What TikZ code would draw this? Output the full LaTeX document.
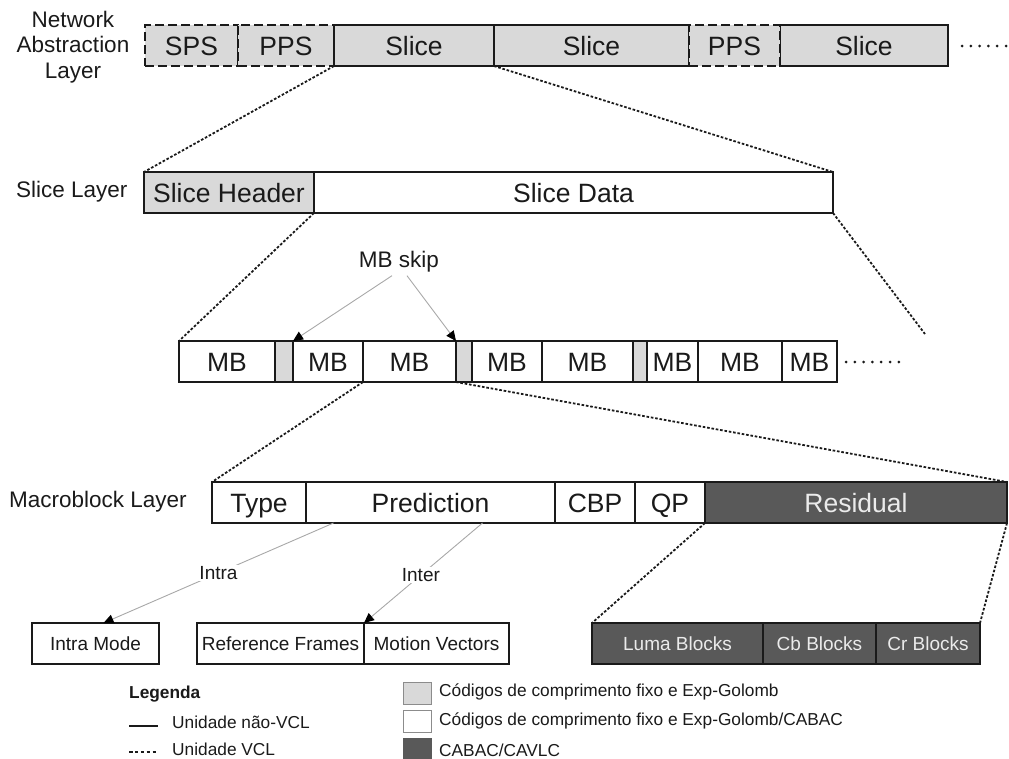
\documentclass[tikz,border=0pt]{standalone}
\usepackage{fontspec}
\setmainfont{Liberation Sans}
\usetikzlibrary{arrows.meta}

\definecolor{lightfill}{HTML}{D9D9D9}
\definecolor{darkfill}{HTML}{595959}
\definecolor{linkgray}{HTML}{A8A8A8}
\definecolor{ink}{HTML}{1A1A1A}

\tikzset{
  box/.style={draw=ink, line width=1.5pt, inner sep=0pt, outer sep=0pt,
              anchor=north west, text=ink, minimum height=41pt,
              text height=19pt, text depth=0pt,
              font=\fontsize{26.5}{30}\selectfont},
  lite/.style={box, fill=lightfill},
  plain/.style={box, fill=white},
  dark/.style={box, fill=darkfill, text=white!92!black},
  dashbox/.style={dash pattern=on 9pt off 4pt},
  small/.style={font=\fontsize{19}{22}\selectfont, text height=13.6pt},
  layerlabel/.style={font=\fontsize{22.5}{25.5}\selectfont, text=ink, inner sep=0pt},
  zoomline/.style={draw=ink, line width=1.8pt, dash pattern=on 2.6pt off 1.8pt},
  trail/.style={draw=ink, line width=3pt, line cap=round, dash pattern=on 0pt off 8.8pt},
  choice/.style={draw=linkgray, line width=0.9pt,
                 -{Triangle[length=10pt,width=9pt,color=black]}},
  branchlabel/.style={fill=white, inner sep=1.5pt, text=ink,
                      font=\fontsize{19}{22}\selectfont},
  legendtext/.style={anchor=west, inner sep=0pt, text=ink,
                     font=\fontsize{17.3}{20}\selectfont},
  swatch/.style={draw=black!45, line width=0.8pt, anchor=north west,
                 minimum width=28pt, minimum height=22pt, inner sep=0pt},
}

\begin{document}
\begin{tikzpicture}[x=1pt,y=-1pt]
\useasboundingbox (0,0) rectangle (1009,758);

% ---- Network abstraction layer ----
\node[layerlabel, align=center] (nallabel) at (73,47)
  {Network\\Abstraction\\Layer};
\node[lite, dashbox, minimum width=93pt]  (sps)    at (145,25) {SPS};
\node[lite, dashbox, minimum width=96pt]  (ppsA)   at (238,25) {PPS};
\node[lite, minimum width=160pt]          (sliceA) at (334,25) {Slice};
\node[lite, minimum width=195pt]          (sliceB) at (494,25) {Slice};
\node[lite, minimum width=168pt]          (sliceC) at (780,25) {Slice};
\node[lite, dashbox, minimum width=91pt]  (ppsB)   at (689,25) {PPS};
\coordinate (nalmore) at (962,46);
\draw[trail] (nalmore) -- ++(44.5,0);

% ---- Slice layer ----
\node[layerlabel, anchor=west] (slicelabel) at (16,192) {Slice Layer};
\node[lite,  minimum width=170pt] (shead) at (144,172) {Slice Header};
\node[plain, minimum width=519pt] (sdata) at (314,172) {Slice Data};

\draw[zoomline] (sliceA.south west) -- (shead.north west);
\draw[zoomline] (sliceA.south east) -- (sdata.north east);

% ---- Macroblock sequence ----
\begin{scope}[every node/.append style={minimum height=40pt}]
\node[plain, minimum width=96pt] (mbA) at (179,341) {MB};
\node[lite,  minimum width=18pt] (skA) at (275,341) {};
\node[plain, minimum width=70pt] (mbB) at (293,341) {MB};
\node[plain, minimum width=93pt] (mbC) at (363,341) {MB};
\node[lite,  minimum width=16pt] (skB) at (456,341) {};
\node[plain, minimum width=70pt] (mbD) at (472,341) {MB};
\node[plain, minimum width=91pt] (mbE) at (542,341) {MB};
\node[lite,  minimum width=14pt] (skC) at (633,341) {};
\node[plain, minimum width=51pt] (mbF) at (647,341) {MB};
\node[plain, minimum width=84pt] (mbG) at (698,341) {MB};
\node[plain, minimum width=55pt] (mbH) at (782,341) {MB};
\end{scope}
\coordinate (mbmore) at (846,362);
\draw[trail] (mbmore) -- ++(53.5,0);

\coordinate (sdataend) at (925,334);
\draw[zoomline] (shead.south east) -- (mbA.north west);
\draw[zoomline] (sdata.south east) -- (sdataend);

\node[layerlabel] (skip) at (399,262) {MB skip};
\draw[choice] ([xshift=-7pt,yshift=-3pt]skip.south) -- (skA.north east);
\draw[choice] ([xshift=8pt,yshift=-3pt]skip.south) -- (skB.north west);

% ---- Macroblock layer ----
\node[layerlabel, anchor=west] (mblabel) at (9,502) {Macroblock Layer};
\node[plain, minimum width=94pt]  (type) at (212,482) {Type};
\node[plain, minimum width=249pt] (pred) at (306,482) {Prediction};
\node[plain, minimum width=80pt]  (cbp)  at (555,482) {CBP};
\node[plain, minimum width=70pt]  (qp)   at (635,482) {QP};
\node[dark,  minimum width=302pt] (res)  at (705,482) {Residual};

\draw[zoomline] (mbC.south west) -- (type.north west);
\draw[zoomline] (mbC.south east) -- (res.north east);

% ---- Prediction and residual contents ----
\node[plain, small, minimum width=127pt] (intra) at (32,623)  {Intra Mode};
\node[plain, small, minimum width=167pt] (reff)  at (197,623) {Reference Frames};
\node[plain, small, minimum width=145pt] (mv)    at (364,623) {Motion Vectors};
\node[dark,  small, minimum width=171pt] (luma)  at (592,623) {Luma Blocks};
\node[dark,  small, minimum width=113pt] (cb)    at (763,623) {Cb Blocks};
\node[dark,  small, minimum width=104pt] (cr)    at (876,623) {Cr Blocks};

\draw[choice] ([xshift=-97pt]pred.south) -- node[branchlabel, pos=0.5] {Intra}
  ([xshift=8pt]intra.north);
\draw[choice] ([xshift=52pt]pred.south) -- node[branchlabel, pos=0.52] {Inter}
  (reff.north east);

\draw[zoomline] (qp.south east) -- (luma.north west);
\draw[zoomline] (res.south east) -- (cr.north east);

% ---- Legend ----
\node[legendtext, font=\bfseries\fontsize{17.3}{20}\selectfont] (legtitle)
  at (129,694) {Legenda};
\coordinate (solidA) at (129,726);
\coordinate (solidB) at (158,726);
\draw[draw=ink, line width=1.6pt] (solidA) -- (solidB);
\node[legendtext] (nonvcl) at (172,722) {Unidade não-VCL};
\coordinate (dashA) at (129,752);
\coordinate (dashB) at (158,752);
\draw[draw=ink, line width=1.6pt, dash pattern=on 3.5pt off 2.4pt] (dashA) -- (dashB);
\node[legendtext] (vcl) at (172,749) {Unidade VCL};

\node[swatch, fill=lightfill] (swA) at (403,682) {};
\node[legendtext] (txA) at (439,692) {Códigos de comprimento fixo e Exp-Golomb};
\node[swatch, fill=white] (swB) at (403,710) {};
\node[legendtext] (txB) at (439,721) {Códigos de comprimento fixo e Exp-Golomb/CABAC};
\node[swatch, fill=darkfill, draw=darkfill] (swC) at (403,738) {};
\node[legendtext] (txC) at (439,750) {CABAC/CAVLC};
\end{tikzpicture}
\end{document}
